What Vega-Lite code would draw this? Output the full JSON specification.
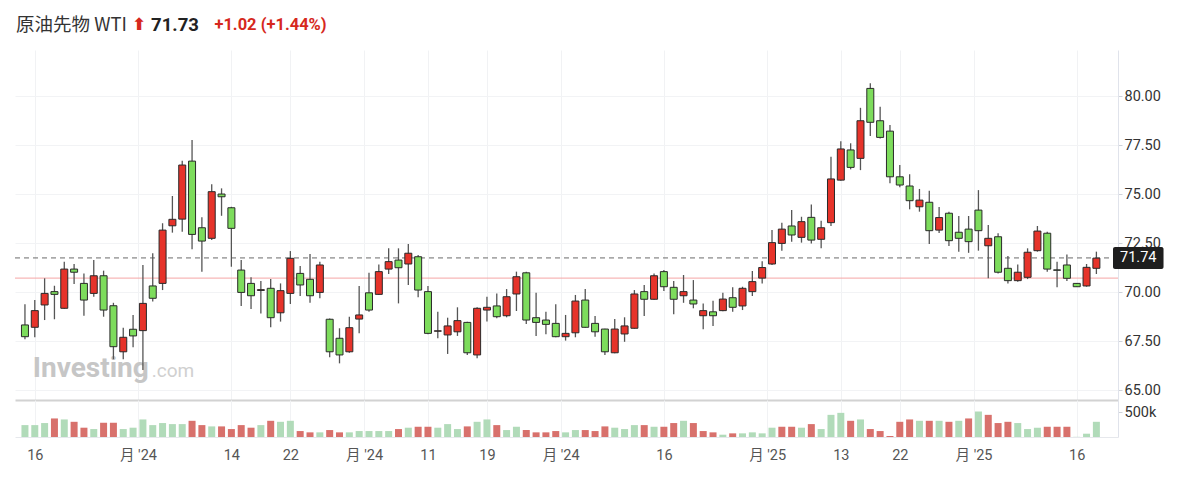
{
  "$schema": "https://vega.github.io/schema/vega-lite/v6.json",
  "padding": {"left": 14, "top": 0, "right": 0, "bottom": 0},
  "background": "white",
  "spacing": 0,
  "datasets": {
    "k": [
      {"i":1,"o":68.32,"h":69.37,"l":67.59,"c":67.72,"v":238000,"vd":"u"},
      {"i":2,"o":68.20,"h":69.59,"l":67.69,"c":69.05,"v":238000,"vd":"u"},
      {"i":3,"o":69.34,"h":70.70,"l":68.57,"c":69.93,"v":279000,"vd":"u"},
      {"i":4,"o":70.02,"h":70.32,"l":68.61,"c":69.88,"v":371000,"vd":"d"},
      {"i":5,"o":69.17,"h":71.55,"l":69.15,"c":71.17,"v":351000,"vd":"u"},
      {"i":6,"o":71.17,"h":71.43,"l":70.41,"c":71.01,"v":304000,"vd":"d"},
      {"i":7,"o":70.44,"h":70.95,"l":68.79,"c":69.59,"v":186000,"vd":"d"},
      {"i":8,"o":69.93,"h":71.63,"l":69.76,"c":70.83,"v":159000,"vd":"u"},
      {"i":9,"o":70.83,"h":71.09,"l":68.74,"c":69.08,"v":285000,"vd":"d"},
      {"i":10,"o":69.30,"h":69.45,"l":66.57,"c":67.21,"v":285000,"vd":"d"},
      {"i":11,"o":66.95,"h":68.18,"l":66.57,"c":67.69,"v":159000,"vd":"u"},
      {"i":12,"o":68.10,"h":68.83,"l":67.18,"c":67.76,"v":186000,"vd":"u"},
      {"i":13,"o":68.03,"h":71.38,"l":66.02,"c":69.42,"v":351000,"vd":"u"},
      {"i":14,"o":70.31,"h":71.98,"l":69.51,"c":69.68,"v":238000,"vd":"u"},
      {"i":15,"o":70.44,"h":73.51,"l":70.10,"c":73.16,"v":279000,"vd":"u"},
      {"i":16,"o":73.38,"h":74.90,"l":73.03,"c":73.71,"v":258000,"vd":"u"},
      {"i":17,"o":73.72,"h":76.70,"l":73.08,"c":76.48,"v":258000,"vd":"u"},
      {"i":18,"o":76.68,"h":77.76,"l":72.18,"c":72.94,"v":324000,"vd":"d"},
      {"i":19,"o":73.28,"h":73.81,"l":71.04,"c":72.60,"v":238000,"vd":"d"},
      {"i":20,"o":72.74,"h":75.50,"l":72.65,"c":75.12,"v":212000,"vd":"u"},
      {"i":21,"o":75.00,"h":75.29,"l":73.89,"c":74.86,"v":212000,"vd":"d"},
      {"i":22,"o":74.30,"h":74.35,"l":71.29,"c":73.25,"v":159000,"vd":"d"},
      {"i":23,"o":71.12,"h":71.63,"l":69.29,"c":69.98,"v":238000,"vd":"d"},
      {"i":24,"o":70.44,"h":70.75,"l":69.13,"c":69.81,"v":186000,"vd":"d"},
      {"i":25,"o":70.08,"h":70.56,"l":68.91,"c":70.12,"v":238000,"vd":"u"},
      {"i":26,"o":70.19,"h":70.66,"l":68.20,"c":68.69,"v":324000,"vd":"d"},
      {"i":27,"o":68.94,"h":70.44,"l":68.49,"c":70.07,"v":304000,"vd":"u"},
      {"i":28,"o":69.93,"h":72.09,"l":69.39,"c":71.72,"v":324000,"vd":"u"},
      {"i":29,"o":70.95,"h":71.33,"l":69.80,"c":70.36,"v":119000,"vd":"d"},
      {"i":30,"o":70.65,"h":71.94,"l":69.45,"c":69.81,"v":93000,"vd":"d"},
      {"i":31,"o":69.98,"h":71.55,"l":69.68,"c":71.38,"v":93000,"vd":"u"},
      {"i":32,"o":68.61,"h":68.65,"l":66.67,"c":66.95,"v":139000,"vd":"d"},
      {"i":33,"o":67.64,"h":68.15,"l":66.36,"c":66.79,"v":93000,"vd":"d"},
      {"i":34,"o":66.95,"h":68.74,"l":66.90,"c":68.18,"v":93000,"vd":"u"},
      {"i":35,"o":68.62,"h":70.31,"l":67.89,"c":68.83,"v":119000,"vd":"u"},
      {"i":36,"o":69.96,"h":70.98,"l":68.99,"c":69.08,"v":119000,"vd":"u"},
      {"i":37,"o":69.88,"h":71.41,"l":69.85,"c":71.04,"v":119000,"vd":"u"},
      {"i":38,"o":71.17,"h":72.23,"l":70.92,"c":71.55,"v":119000,"vd":"u"},
      {"i":39,"o":71.63,"h":72.23,"l":69.42,"c":71.24,"v":159000,"vd":"d"},
      {"i":40,"o":71.43,"h":72.45,"l":70.36,"c":71.98,"v":186000,"vd":"u"},
      {"i":41,"o":71.80,"h":71.89,"l":69.73,"c":70.10,"v":205000,"vd":"d"},
      {"i":42,"o":70.02,"h":70.31,"l":67.85,"c":67.89,"v":205000,"vd":"d"},
      {"i":43,"o":68.00,"h":68.99,"l":67.64,"c":68.02,"v":186000,"vd":"u"},
      {"i":44,"o":67.81,"h":68.69,"l":66.84,"c":68.27,"v":258000,"vd":"u"},
      {"i":45,"o":67.97,"h":69.22,"l":67.76,"c":68.54,"v":159000,"vd":"u"},
      {"i":46,"o":68.45,"h":68.48,"l":66.79,"c":66.90,"v":212000,"vd":"d"},
      {"i":47,"o":66.79,"h":69.22,"l":66.62,"c":69.17,"v":304000,"vd":"u"},
      {"i":48,"o":69.08,"h":69.76,"l":68.49,"c":69.22,"v":351000,"vd":"u"},
      {"i":49,"o":69.29,"h":69.93,"l":68.66,"c":68.74,"v":238000,"vd":"d"},
      {"i":50,"o":68.79,"h":70.15,"l":68.71,"c":69.76,"v":139000,"vd":"u"},
      {"i":51,"o":69.90,"h":71.04,"l":69.03,"c":70.78,"v":205000,"vd":"u"},
      {"i":52,"o":70.98,"h":71.04,"l":68.37,"c":68.57,"v":139000,"vd":"d"},
      {"i":53,"o":68.69,"h":69.96,"l":67.76,"c":68.45,"v":93000,"vd":"d"},
      {"i":54,"o":68.57,"h":68.99,"l":67.84,"c":68.35,"v":93000,"vd":"d"},
      {"i":55,"o":68.40,"h":69.37,"l":67.69,"c":67.72,"v":119000,"vd":"d"},
      {"i":56,"o":67.72,"h":68.83,"l":67.52,"c":67.89,"v":93000,"vd":"u"},
      {"i":57,"o":67.92,"h":69.85,"l":67.69,"c":69.54,"v":139000,"vd":"u"},
      {"i":58,"o":69.59,"h":70.15,"l":68.18,"c":68.20,"v":139000,"vd":"d"},
      {"i":59,"o":68.40,"h":68.78,"l":67.72,"c":67.97,"v":119000,"vd":"d"},
      {"i":60,"o":68.11,"h":68.13,"l":66.79,"c":66.95,"v":212000,"vd":"d"},
      {"i":61,"o":66.90,"h":68.62,"l":66.88,"c":68.11,"v":186000,"vd":"u"},
      {"i":62,"o":67.86,"h":68.71,"l":67.46,"c":68.27,"v":159000,"vd":"u"},
      {"i":63,"o":68.15,"h":70.10,"l":68.13,"c":69.90,"v":238000,"vd":"u"},
      {"i":64,"o":70.02,"h":70.36,"l":68.78,"c":69.63,"v":238000,"vd":"d"},
      {"i":65,"o":69.63,"h":70.95,"l":69.60,"c":70.83,"v":205000,"vd":"u"},
      {"i":66,"o":71.04,"h":71.12,"l":70.05,"c":70.27,"v":205000,"vd":"d"},
      {"i":67,"o":70.24,"h":70.56,"l":68.86,"c":69.63,"v":279000,"vd":"d"},
      {"i":68,"o":69.81,"h":70.87,"l":69.45,"c":70.02,"v":324000,"vd":"u"},
      {"i":69,"o":69.59,"h":70.61,"l":69.17,"c":69.39,"v":279000,"vd":"d"},
      {"i":70,"o":68.79,"h":69.42,"l":68.10,"c":69.05,"v":119000,"vd":"d"},
      {"i":71,"o":68.99,"h":69.56,"l":68.27,"c":68.79,"v":93000,"vd":"d"},
      {"i":72,"o":69.05,"h":69.96,"l":69.02,"c":69.64,"v":46000,"vd":"u"},
      {"i":73,"o":69.71,"h":70.24,"l":68.99,"c":69.22,"v":73000,"vd":"d"},
      {"i":74,"o":69.29,"h":70.27,"l":69.08,"c":70.19,"v":73000,"vd":"u"},
      {"i":75,"o":70.02,"h":71.07,"l":69.80,"c":70.53,"v":93000,"vd":"u"},
      {"i":76,"o":70.71,"h":71.57,"l":70.44,"c":71.25,"v":73000,"vd":"u"},
      {"i":77,"o":71.43,"h":73.16,"l":71.38,"c":72.52,"v":186000,"vd":"u"},
      {"i":78,"o":72.48,"h":73.54,"l":72.11,"c":73.21,"v":205000,"vd":"d"},
      {"i":79,"o":73.37,"h":74.18,"l":72.57,"c":72.91,"v":205000,"vd":"d"},
      {"i":80,"o":72.79,"h":73.84,"l":72.52,"c":73.59,"v":186000,"vd":"u"},
      {"i":81,"o":73.81,"h":74.47,"l":72.48,"c":72.65,"v":258000,"vd":"d"},
      {"i":82,"o":72.69,"h":73.64,"l":72.23,"c":73.28,"v":159000,"vd":"u"},
      {"i":83,"o":73.54,"h":76.90,"l":73.37,"c":75.77,"v":443000,"vd":"u"},
      {"i":84,"o":75.71,"h":77.70,"l":75.68,"c":77.30,"v":483000,"vd":"u"},
      {"i":85,"o":77.25,"h":77.59,"l":76.26,"c":76.36,"v":324000,"vd":"d"},
      {"i":86,"o":76.82,"h":79.40,"l":76.22,"c":78.74,"v":351000,"vd":"u"},
      {"i":87,"o":80.39,"h":80.65,"l":77.96,"c":78.66,"v":159000,"vd":"d"},
      {"i":88,"o":78.74,"h":79.45,"l":77.84,"c":77.89,"v":119000,"vd":"d"},
      {"i":89,"o":78.21,"h":78.52,"l":75.55,"c":75.88,"v":20000,"vd":"d"},
      {"i":90,"o":75.88,"h":76.48,"l":75.34,"c":75.46,"v":304000,"vd":"d"},
      {"i":91,"o":75.41,"h":76.01,"l":74.22,"c":74.66,"v":351000,"vd":"d"},
      {"i":92,"o":74.35,"h":75.26,"l":74.10,"c":74.69,"v":324000,"vd":"u"},
      {"i":93,"o":74.58,"h":75.17,"l":72.45,"c":73.13,"v":324000,"vd":"d"},
      {"i":94,"o":73.16,"h":74.34,"l":73.01,"c":73.80,"v":324000,"vd":"u"},
      {"i":95,"o":74.02,"h":74.10,"l":72.35,"c":72.62,"v":304000,"vd":"d"},
      {"i":96,"o":73.05,"h":73.88,"l":72.06,"c":72.74,"v":324000,"vd":"u"},
      {"i":97,"o":73.21,"h":73.88,"l":72.00,"c":72.57,"v":371000,"vd":"d"},
      {"i":98,"o":74.18,"h":75.20,"l":72.11,"c":73.13,"v":510000,"vd":"u"},
      {"i":99,"o":72.36,"h":73.42,"l":70.70,"c":72.74,"v":443000,"vd":"d"},
      {"i":100,"o":72.82,"h":73.00,"l":70.95,"c":71.01,"v":279000,"vd":"d"},
      {"i":101,"o":71.21,"h":71.84,"l":70.44,"c":70.58,"v":304000,"vd":"d"},
      {"i":102,"o":70.58,"h":71.41,"l":70.53,"c":71.01,"v":279000,"vd":"u"},
      {"i":103,"o":70.75,"h":72.23,"l":70.66,"c":72.03,"v":159000,"vd":"u"},
      {"i":104,"o":72.11,"h":73.37,"l":72.06,"c":73.11,"v":186000,"vd":"u"},
      {"i":105,"o":73.00,"h":73.08,"l":71.04,"c":71.17,"v":205000,"vd":"d"},
      {"i":106,"o":71.13,"h":71.55,"l":70.24,"c":71.11,"v":205000,"vd":"d"},
      {"i":107,"o":71.38,"h":71.92,"l":70.56,"c":70.70,"v":205000,"vd":"d"},
      {"i":108,"o":70.44,"h":70.46,"l":70.25,"c":70.27,"v":3000,"vd":"u"},
      {"i":109,"o":70.31,"h":71.43,"l":70.27,"c":71.26,"v":66000,"vd":"u"},
      {"i":110,"o":71.21,"h":72.06,"l":70.92,"c":71.73,"v":304000,"vd":"u"}
    ]
  },
  "vconcat": [
    {
      "spacing": 0,
      "hconcat": [
        {
          "width": 113, "height": 50,
          "data": {"values": [{"t": "原油先物 WTI"}]},
          "mark": {"type": "text", "font": "Noto Sans CJK JP", "fontSize": 18.5, "color": "#333333"},
          "encoding": {"text": {"field": "t"}}
        },
        {
          "width": 22, "height": 50,
          "data": {"values": [{"t": "⬆"}]},
          "mark": {"type": "text", "font": "DejaVu Sans", "fontSize": 17, "fontWeight": "bold", "color": "#d6281d"},
          "encoding": {"text": {"field": "t"}}
        },
        {
          "width": 50, "height": 50,
          "data": {"values": [{"t": "71.73"}]},
          "mark": {"type": "text", "font": "Roboto", "fontSize": 18.5, "fontWeight": "bold", "color": "#222222"},
          "encoding": {"text": {"field": "t"}}
        },
        {
          "width": 141, "height": 50,
          "data": {"values": [{"t": "+1.02 (+1.44%)"}]},
          "mark": {"type": "text", "font": "Roboto", "fontSize": 16.5, "fontWeight": "bold", "color": "#d6281d"},
          "encoding": {"text": {"field": "t"}}
        }
      ]
    },
    {
      "width": 1103,
      "height": 350,
      "layer": [
        {
          "data": {"values": [{"t": "Investing"}]},
          "mark": {"type": "text", "align": "left", "baseline": "alphabetic", "font": "Roboto", "fontWeight": "bold", "fontSize": 28, "color": "#c6c6c6"},
          "encoding": {
            "x": {"datum": 1.8, "type": "quantitative", "scale": {"domain": [0.496, 111.69], "nice": false, "zero": false}},
            "y": {"datum": 65.66, "type": "quantitative", "scale": {"domain": [64.49, 82.35], "nice": false, "zero": false}},
            "text": {"field": "t"}
          }
        },
        {
          "data": {"values": [{"t": ".com"}]},
          "mark": {"type": "text", "align": "left", "baseline": "alphabetic", "font": "Roboto", "fontSize": 19, "color": "#d0d0d0"},
          "encoding": {
            "x": {"datum": 13.9, "type": "quantitative"},
            "y": {"datum": 65.66, "type": "quantitative"},
            "text": {"field": "t"}
          }
        },
        {
          "data": {"values": [{}]},
          "mark": {"type": "rule", "color": "#f5a5a5", "strokeWidth": 1},
          "encoding": {"y": {"datum": 70.71, "type": "quantitative"}}
        },
        {
          "data": {"values": [{}]},
          "mark": {"type": "rule", "color": "#6a6a6a", "strokeWidth": 1, "strokeDash": [5, 4]},
          "encoding": {"y": {"datum": 71.74, "type": "quantitative"}}
        },
        {
          "data": {"name": "k"},
          "mark": {"type": "rule", "color": "#555555", "strokeWidth": 1.3},
          "encoding": {
            "x": {
              "field": "i", "type": "quantitative", "title": null,
              "scale": {"domain": [0.496, 111.69], "nice": false, "zero": false},
              "axis": {
                "values": [2, 12.5, 22, 28, 35.5, 42, 48, 55.5, 66, 76.5, 84, 90, 97.5, 108],
                "labels": false, "ticks": false, "grid": true, "gridColor": "#f1f2f4",
                "domainColor": "#d2d2d2", "domainWidth": 2, "title": null
              }
            },
            "y": {
              "field": "l", "type": "quantitative", "title": null,
              "scale": {"domain": [64.49, 82.35], "nice": false, "zero": false},
              "axis": {
                "orient": "right", "values": [65, 67.5, 70, 72.5, 75, 77.5, 80], "format": ".2f",
                "grid": true, "gridColor": "#f2f3f5", "tickSize": 4, "tickColor": "#cfd3da",
                "domainColor": "#e0e3eb", "labelPadding": 2, "labelFontSize": 14.5,
                "labelColor": "#333333", "title": null
              }
            },
            "y2": {"field": "h"}
          }
        },
        {
          "data": {"name": "k"},
          "mark": {"type": "bar", "width": 7, "stroke": "#2a2a2a", "strokeWidth": 1},
          "encoding": {
            "x": {"field": "i", "type": "quantitative", "title": null},
            "y": {"field": "o", "type": "quantitative", "title": null},
            "y2": {"field": "c"},
            "color": {"condition": {"test": "datum.c > datum.o", "value": "#e6332a"}, "value": "#7ddc5c"}
          }
        },
        {
          "data": {"values": [{}]},
          "mark": {"type": "rect", "color": "#1e1e1e", "cornerRadius": 2},
          "encoding": {
            "x": {"datum": 111.69, "type": "quantitative"},
            "x2": {"datum": 116.83},
            "y": {"datum": 72.30, "type": "quantitative"},
            "y2": {"datum": 71.17}
          }
        },
        {
          "data": {"values": [{"t": "71.74"}]},
          "mark": {"type": "text", "color": "white", "fontSize": 14.5},
          "encoding": {
            "x": {"datum": 114.26, "type": "quantitative"},
            "y": {"datum": 71.73, "type": "quantitative"},
            "text": {"field": "t"}
          }
        }
      ]
    },
    {
      "width": 1103,
      "height": 37,
      "data": {"name": "k"},
      "mark": {"type": "bar", "width": 7},
      "encoding": {
        "x": {
          "field": "i", "type": "quantitative", "title": null,
          "scale": {"domain": [0.496, 111.69], "nice": false, "zero": false},
          "axis": {
            "values": [2, 12.5, 22, 28, 35.5, 42, 48, 55.5, 66, 76.5, 84, 90, 97.5, 108],
            "labelExpr": "[\"16\",\"月 '24\",\"14\",\"22\",\"月 '24\",\"11\",\"19\",\"月 '24\",\"16\",\"月 '25\",\"13\",\"22\",\"月 '25\",\"16\"][indexof([2,12.5,22,28,35.5,42,48,55.5,66,76.5,84,90,97.5,108], datum.value)]",
            "tickSize": 0, "labelPadding": 11, "grid": true, "gridColor": "#f1f2f4",
            "domainColor": "#e6e8ec", "labelFontSize": 14.5, "labelColor": "#555555",
            "labelFlush": false, "labelOverlap": false, "labelBound": false, "title": null
          }
        },
        "y": {
          "field": "v", "type": "quantitative", "title": null, "stack": null,
          "scale": {"domain": [0, 740000], "nice": false},
          "axis": {
            "orient": "right", "values": [500000], "labelExpr": "'500k'", "grid": false,
            "tickSize": 4, "tickColor": "#cfd3da", "domainColor": "#e0e3eb",
            "labelPadding": 2, "labelFontSize": 14.5, "labelColor": "#333333", "title": null
          }
        },
        "color": {"condition": {"test": "datum.vd == 'u'", "value": "#b1dbb9"}, "value": "#d8716c"}
      }
    }
  ],
  "config": {
    "view": {"stroke": null},
    "font": "Roboto, 'Noto Sans CJK JP', sans-serif",
    "axis": {"labelFont": "Roboto, 'Noto Sans CJK JP', sans-serif"}
  }
}
